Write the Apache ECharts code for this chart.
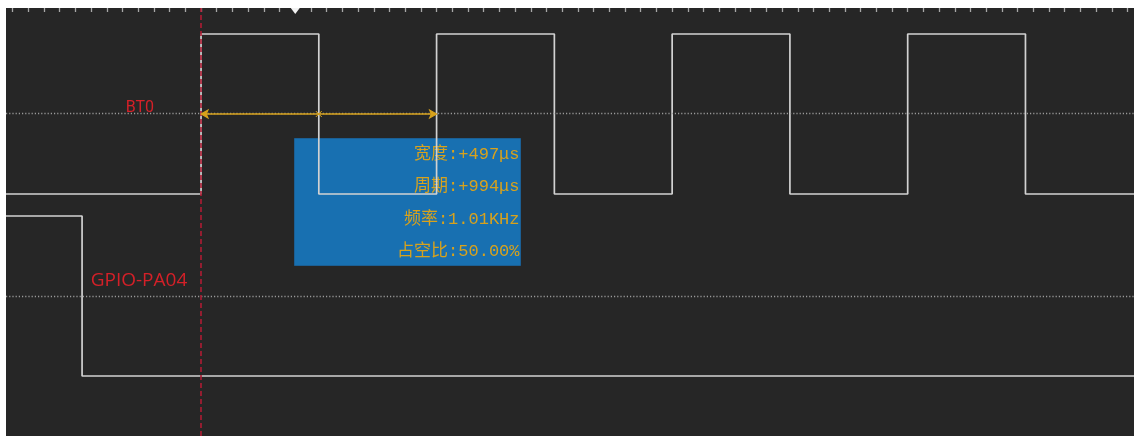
<!DOCTYPE html>
<html>
<head>
<meta charset="utf-8">
<script src="https://cdn.jsdelivr.net/npm/echarts@6/dist/echarts.min.js"></script>
<style>
  html, body { margin: 0; padding: 0; background: #ffffff; }
  #chart { width: 1134px; height: 436px; }
</style>
</head>
<body>
<div id="chart"></div>
<script>
// ---- data (time in µs, logic levels 0/1) ----
const X_MIN = -823;
const X_MAX = 3937;
const bt0Times  = [-823, 0, 497, 994, 1491, 1988, 2485, 2982, 3479, 3937];
const bt0Levels = [0, 1, 0, 1, 0, 1, 0, 1, 0, 0];
const gpioTimes  = [-823, -502, 3937];
const gpioLevels = [1, 0, 0];
const measureTimes = [0, 497, 994];
const cursorTime = 0;
const channelNames = ['BT0', 'GPIO-PA04'];
const infoLabels = ['宽度', '周期', '频率', '占空比'];
const infoValues = ['+497μs', '+994μs', '1.01KHz', '50.00%'];
const tickStep = 994 / 15;

// lane layout (logic units)
const Y_MIN = -0.375;
const Y_MAX = 2.3;
const BT0_OFFSET = 1.1375;
const GPIO_OFFSET = 0;
const bt0Mid = BT0_OFFSET + 0.5;
const gpioMid = GPIO_OFFSET + 0.5;

const tickValues = [];
for (let k = Math.ceil(X_MIN / tickStep); k * tickStep <= X_MAX; k++) tickValues.push(k * tickStep);

const bt0Data = bt0Times.map((t, i) => [t, bt0Levels[i] + BT0_OFFSET]);
const gpioData = gpioTimes.map((t, i) => [t, gpioLevels[i] + GPIO_OFFSET]);
const measureData = measureTimes.map((t, i) => ({
  value: [t, bt0Mid],
  symbol: i === 1 ? 'path://M0,0L10,10M10,0L0,10' : 'arrow',
  symbolRotate: i === 0 ? 90 : (i === measureTimes.length - 1 ? -90 : 0),
  symbolSize: i === 1 ? [6, 6] : [6, 7]
}));

const RED = '#d42028';
const YELLOW = '#d8a21c';
const SIGNAL = '#d2d2d2';

const chart = echarts.init(document.getElementById('chart'), null, { renderer: 'canvas' });

const infoChildren = [{
  type: 'rect',
  shape: { x: 0, y: 0, width: 226, height: 127 },
  style: { fill: 'rgba(22,125,200,0.86)', stroke: '#1b5f94', lineWidth: 1 }
}];
infoLabels.forEach((lab, i) => {
  infoChildren.push({
    type: 'text',
    x: 225,
    y: 16 + i * 32.3,
    style: {
      text: lab + ':' + infoValues[i],
      fill: YELLOW,
      font: '17px "Liberation Mono", "Noto Sans CJK SC"',
      textAlign: 'right',
      textVerticalAlign: 'middle'
    }
  });
});

const option = {
  backgroundColor: '#ffffff',
  animation: false,
  grid: { left: 6, right: 0, top: 8, bottom: 0, show: true, backgroundColor: '#262626', borderWidth: 0 },
  xAxis: {
    type: 'value', min: X_MIN, max: X_MAX, position: 'top',
    axisLine: { show: false, onZero: false },
    axisTick: { show: true, inside: true, length: 4, customValues: tickValues, lineStyle: { color: '#a8a8a8', width: 1.3 } },
    axisLabel: { show: false },
    splitLine: { show: false }
  },
  yAxis: { type: 'value', min: Y_MIN, max: Y_MAX, show: false },
  series: [
    {
      name: 'guides', type: 'line', data: [], silent: true,
      markLine: {
        silent: true, symbol: 'none', label: { show: false },
        data: [
          { yAxis: bt0Mid, lineStyle: { color: '#9a9a9a', width: 1.4, type: [1.2, 2] } },
          { yAxis: gpioMid, lineStyle: { color: '#9a9a9a', width: 1.4, type: [1.2, 2] } }
        ]
      }
    },
    {
      name: channelNames[0], type: 'line', step: 'end', data: bt0Data, showSymbol: false, z: 3,
      lineStyle: { color: SIGNAL, width: 1.7 },
      markPoint: {
        silent: true,
        data: [
          {
            coord: [-258, bt0Mid], symbolSize: 0,
            label: { show: true, position: 'top', distance: 0, offset: [0, 2], formatter: channelNames[0], color: RED, fontFamily: 'Roboto', fontSize: 16 }
          },
          {
            coord: [6 * tickStep, Y_MAX], symbol: 'triangle', symbolRotate: 180, symbolSize: [9, 6], symbolOffset: [0, 3],
            itemStyle: { color: '#f2f2f2' }, label: { show: false }
          }
        ]
      }
    },
    {
      name: channelNames[1], type: 'line', step: 'end', data: gpioData, showSymbol: false, z: 3,
      lineStyle: { color: SIGNAL, width: 1.7 },
      markPoint: {
        silent: true,
        data: [{
          coord: [-262, gpioMid], symbolSize: 0,
          label: { show: true, position: 'top', distance: 6, formatter: channelNames[1], color: RED, fontFamily: 'Open Sans', fontSize: 19 }
        }]
      }
    },
    {
      name: 'cursor', type: 'line', data: [], silent: true,
      markLine: {
        silent: true, symbol: 'none', label: { show: false },
        data: [{ xAxis: cursorTime }],
        lineStyle: { color: '#b01c34', width: 1.6, type: [5, 3] }
      },
      z: 4
    },
    {
      name: 'measure', type: 'line', data: measureData, z: 5,
      showSymbol: true, showAllSymbol: true,
      lineStyle: { color: YELLOW, width: 1.5 },
      itemStyle: { color: YELLOW, borderColor: YELLOW, borderWidth: 1 }
    }
  ],
  graphic: [{ type: 'group', left: 294, top: 138, z: 100, children: infoChildren }]
};
chart.setOption(option);
</script>
</body>
</html>
